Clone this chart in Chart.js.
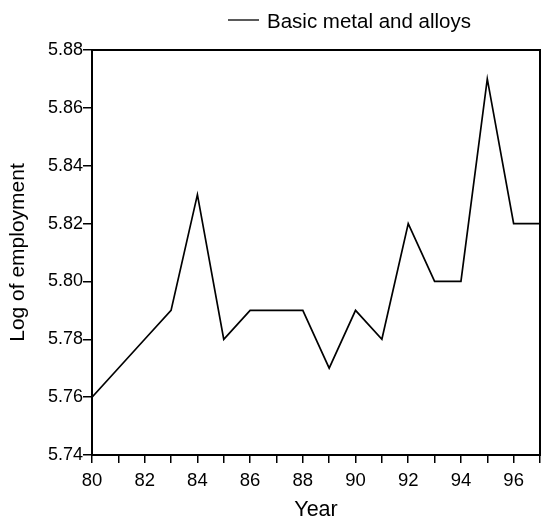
<!DOCTYPE html>
<html>
<head>
<meta charset="utf-8">
<script src="https://cdn.jsdelivr.net/npm/chart.js@4/dist/chart.umd.min.js"></script>
<style>
html,body{margin:0;padding:0;background:#fff;}
#wrap{width:542px;height:527px;}
</style>
</head>
<body>
<div id="wrap"><canvas id="c" width="542" height="527"></canvas></div>
<script>
const years = [80,81,82,83,84,85,86,87,88,89,90,91,92,93,94,95,96,97];
const logEmployment = [5.76,5.77,5.78,5.79,5.83,5.78,5.79,5.79,5.79,5.77,5.79,5.78,5.82,5.80,5.80,5.87,5.82,5.82];
const seriesLabel = 'Basic metal and alloys';
const xTitle = 'Year';
const yTitle = 'Log of employment';

const FONT = "'Liberation Sans', Arial, sans-serif";

const framePlugin = {
  id: 'frame',
  afterDraw(chart) {
    const {ctx, chartArea: a} = chart;
    ctx.save();
    ctx.strokeStyle = '#000';
    ctx.lineWidth = 2;
    ctx.strokeRect(a.left, a.top, a.right - a.left, a.bottom - a.top);
    // legend
    const ds = chart.data.datasets[0];
    ctx.lineWidth = 1.3;
    ctx.beginPath();
    ctx.moveTo(228, 20);
    ctx.lineTo(259, 20);
    ctx.stroke();
    ctx.fillStyle = '#000';
    ctx.font = '20.5px ' + FONT;
    ctx.textBaseline = 'middle';
    ctx.textAlign = 'left';
    ctx.fillText(ds.label, 267, 22);
    ctx.restore();
  }
};

new Chart(document.getElementById('c'), {
  type: 'line',
  data: {
    datasets: [{
      label: seriesLabel,
      data: years.map((y, i) => ({x: y, y: logEmployment[i]})),
      borderColor: '#000',
      borderWidth: 1.7,
      pointRadius: 0,
      tension: 0,
      fill: false
    }]
  },
  options: {
    responsive: false,
    animation: false,
    devicePixelRatio: 1,
    layout: {padding: {top: 50, right: 2, left: 0, bottom: 0}},
    plugins: {legend: {display: false}, tooltip: {enabled: false}},
    scales: {
      x: {
        type: 'linear',
        min: 80, max: 97,
        afterFit(s) { s.height = 72; s.paddingLeft = 0; s.paddingRight = 0; },
        ticks: {
          stepSize: 1,
          autoSkip: false,
          maxRotation: 0,
          color: '#000',
          font: {family: FONT, size: 18.5},
          padding: 7,
          callback: v => (v % 2 === 0 && v < 97) ? String(v) : ''
        },
        grid: {drawOnChartArea: false, drawTicks: true, tickLength: 8, color: '#000', lineWidth: 1.5},
        border: {color: '#000', width: 2},
        title: {display: true, text: xTitle, color: '#000', font: {family: FONT, size: 21.5}, padding: {top: 4, bottom: 4}}
      },
      y: {
        min: 5.74, max: 5.88,
        afterFit(s) { s.width = 92; },
        ticks: {
          stepSize: 0.02,
          color: '#000',
          font: {family: FONT, size: 18},
          padding: 0,
          callback: v => Number(v).toFixed(2)
        },
        grid: {drawOnChartArea: false, drawTicks: true, tickLength: 9, color: '#000', lineWidth: 1.5},
        border: {color: '#000', width: 2},
        title: {display: true, text: yTitle, color: '#000', font: {family: FONT, size: 21}, padding: {top: 6, bottom: 0}}
      }
    }
  },
  plugins: [framePlugin]
});
</script>
</body>
</html>
